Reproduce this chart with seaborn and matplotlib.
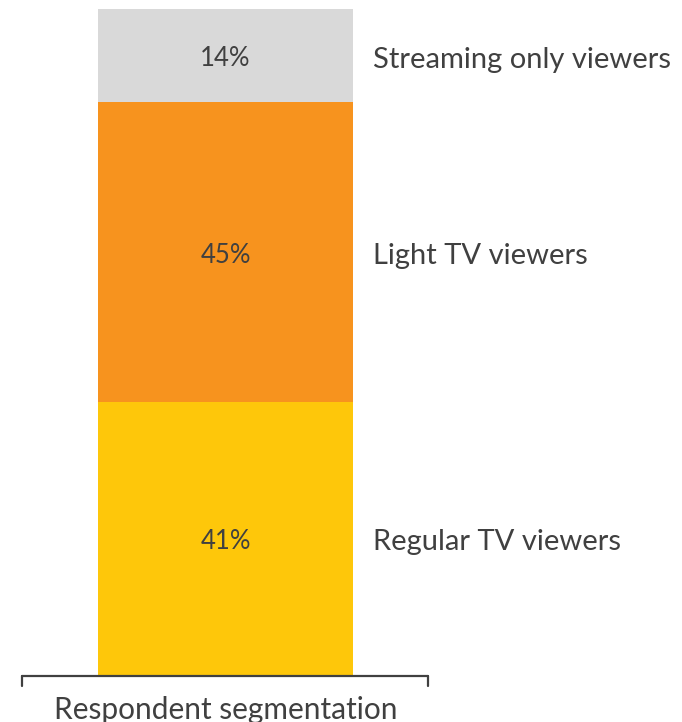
import matplotlib
matplotlib.use("Agg")
import matplotlib.pyplot as plt
from matplotlib.lines import Line2D
import numpy as np
import pandas as pd
import seaborn as sns

# Segment shares, bottom to top
segments = ["Regular TV viewers", "Light TV viewers", "Streaming only viewers"]
shares = [41, 45, 14]
colors = ["#FEC70A", "#F7931E", "#D9D9D9"]
group = "Respondent segmentation"

sns.set_theme(style="white")
plt.rcParams["font.family"] = ["Lato", "DejaVu Sans"]

W, H = 682, 722
fig = plt.figure(figsize=(W / 100, H / 100), dpi=100)

def fx(px):
    return px / W

def fy(py):
    return 1 - py / H

bar_left, bar_right, bar_top, bar_bottom = 98, 353, 9, 675
ax = fig.add_axes([fx(bar_left), fy(bar_bottom),
                   fx(bar_right - bar_left), (bar_bottom - bar_top) / H])

cum = np.cumsum(shares)
# Draw cumulative totals from tallest to shortest so each layer shows its own slice
for i in reversed(range(len(shares))):
    df = pd.DataFrame({"group": [group], "value": [cum[i]]})
    sns.barplot(data=df, x="group", y="value", color=colors[i],
                saturation=1, width=1, ax=ax, linewidth=0, errorbar=None)

ax.set_xlim(-0.5, 0.5)
ax.set_ylim(0, 100)
ax.axis("off")

text_color = "#404040"
starts = cum - np.array(shares)
for s, v, name in zip(starts, shares, segments):
    mid = s + v / 2
    ax.text(0, mid - 0.5, f"{v}%", ha="center", va="center", fontsize=18.5,
            color=text_color)
    ax.text(0.58, mid - 0.6, name, ha="left", va="center", fontsize=21,
            color=text_color, clip_on=False)

# Category bracket under the bar
bx0, bx1, by, btick = 22, 428, 676, 686
lc = "#404040"
fig.add_artist(Line2D([fx(bx0), fx(bx1)], [fy(by), fy(by)], color=lc, lw=1.6))
fig.add_artist(Line2D([fx(bx0), fx(bx0)], [fy(by), fy(btick)], color=lc, lw=1.6))
fig.add_artist(Line2D([fx(bx1), fx(bx1)], [fy(by), fy(btick)], color=lc, lw=1.6))
fig.text(fx(226), fy(696), group, ha="center", va="top", fontsize=21.5,
         color=text_color)

fig.savefig("out.png", dpi=100)
